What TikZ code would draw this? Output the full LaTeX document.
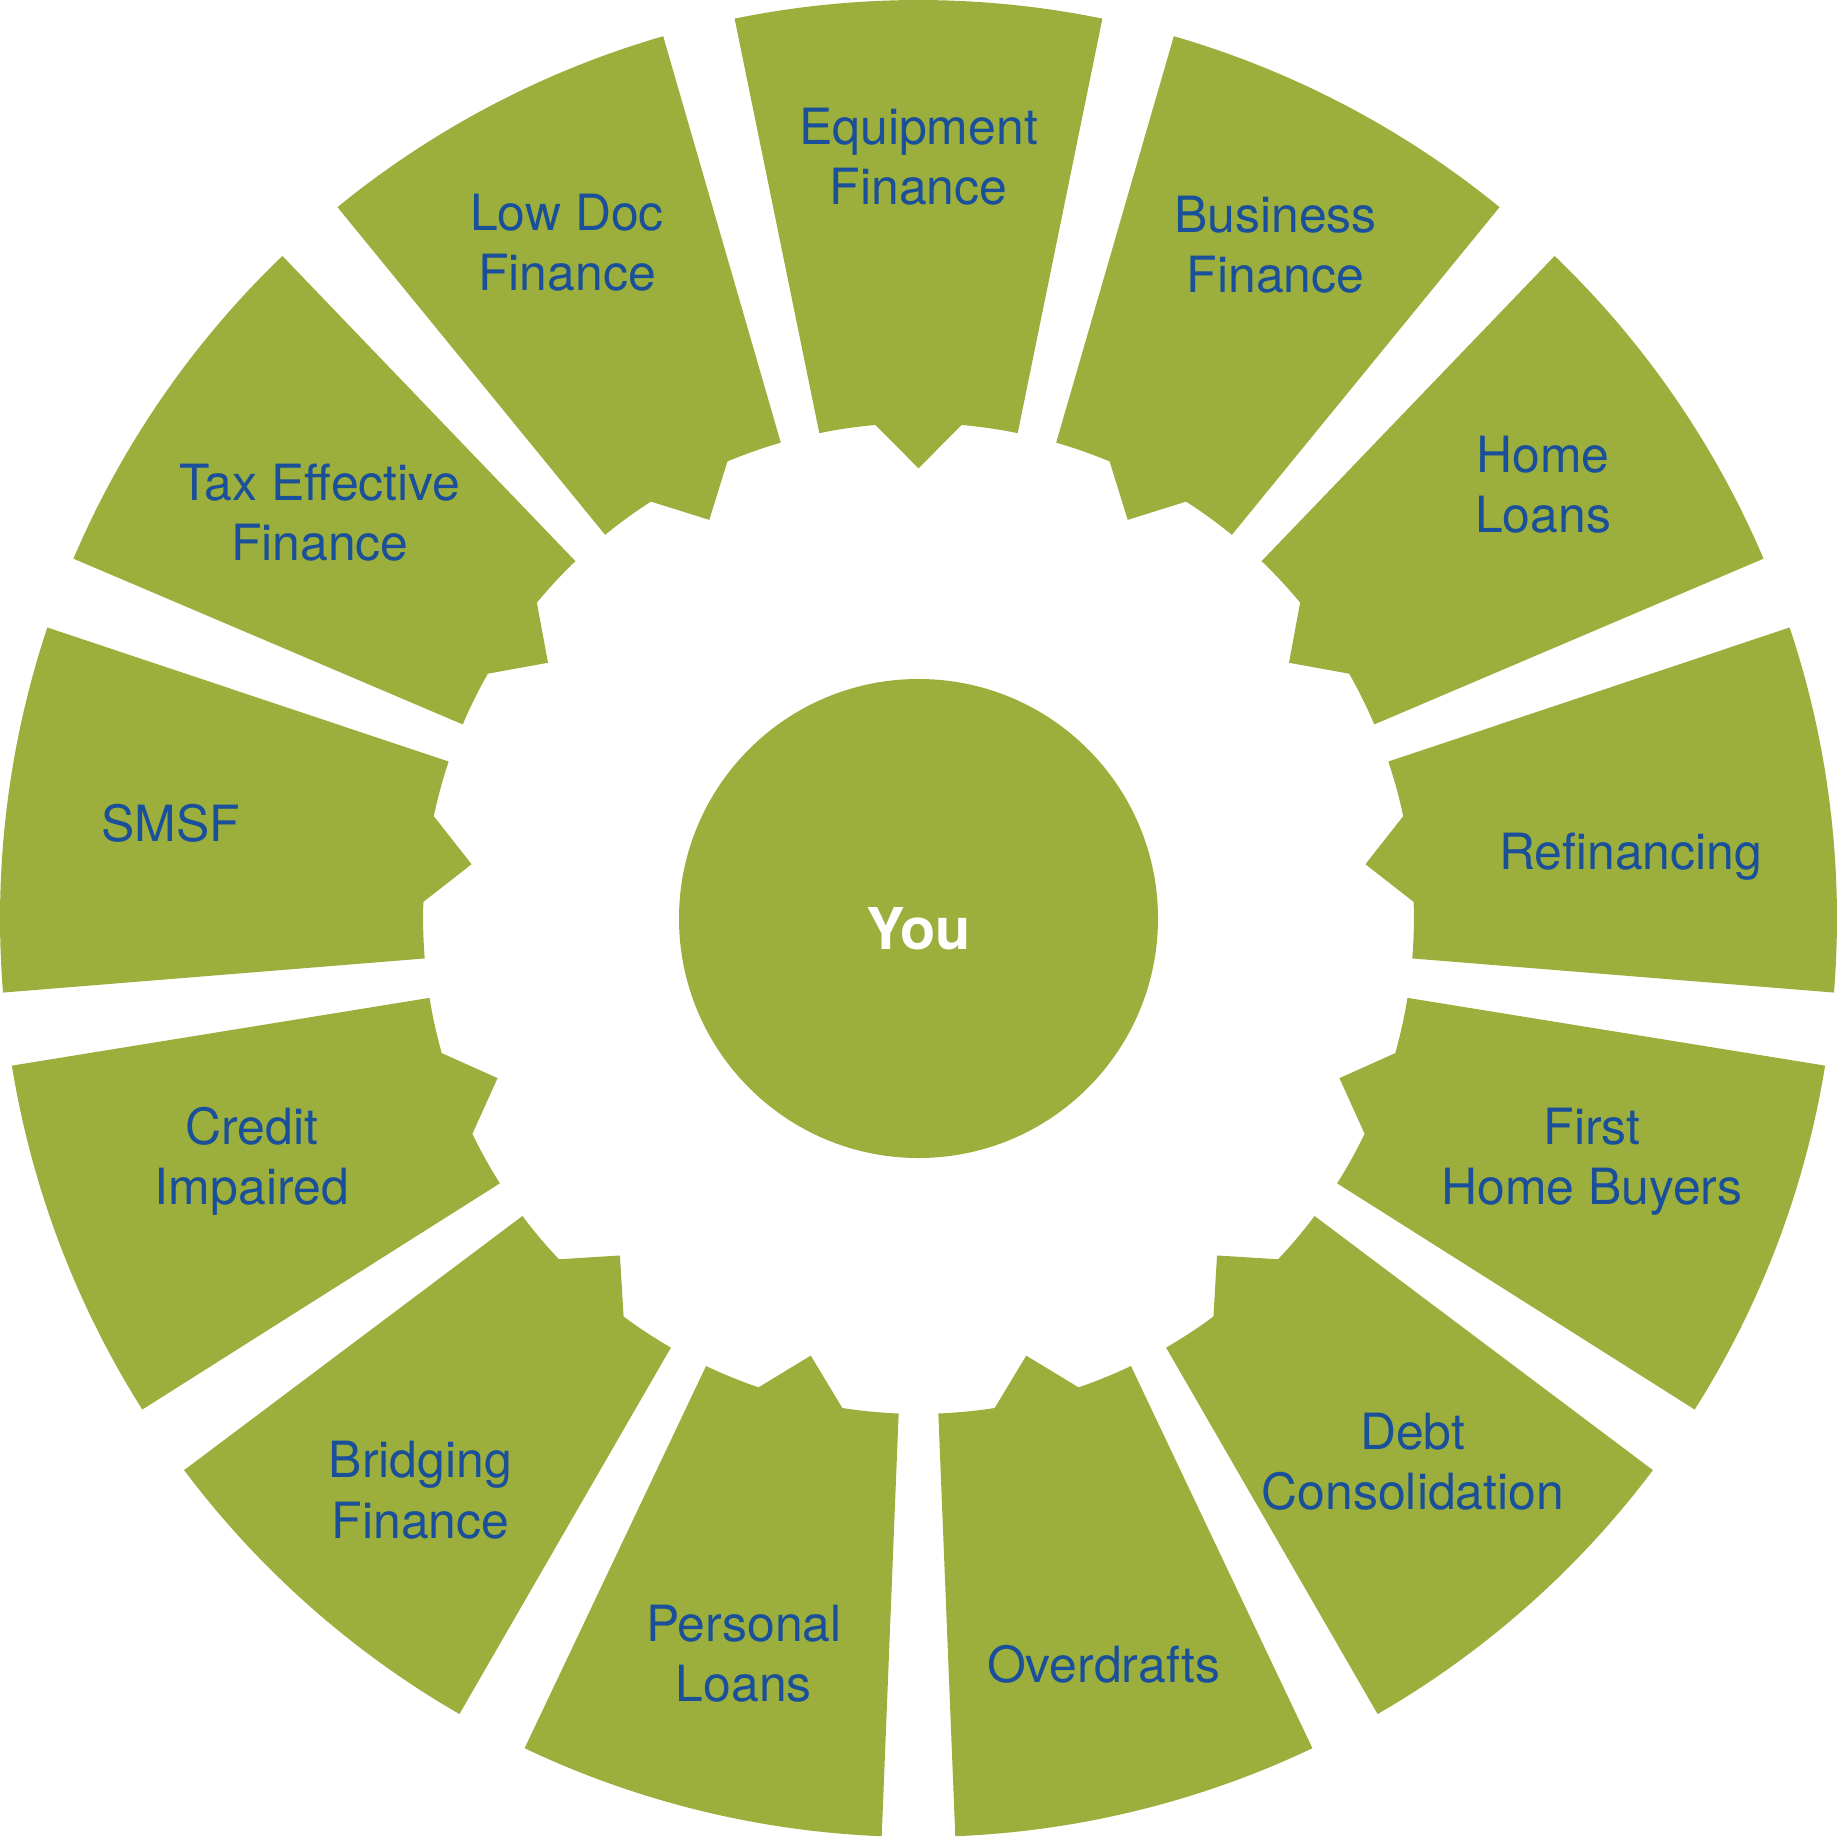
\documentclass[tikz,border=0pt]{standalone}
\usepackage{fontspec}
\setmainfont{TeX Gyre Heros}
\usepackage{tikz}
\definecolor{leafgreen}{HTML}{9CAF3C}
\definecolor{labelblue}{HTML}{1A4F9A}
\tikzset{lbl/.style={text=labelblue, align=center, font=\fontsize{14.2}{17.2}\selectfont}}
\def\segment(#1){\fill[leafgreen] (#1-11.55:9.185) arc[start angle=#1-11.55, end angle=#1+11.55, radius=9.185] -- (#1+11.55:4.954) arc[start angle=#1+11.55, end angle=#1+5, radius=4.954] -- (#1:4.502) -- (#1-5:4.954) arc[start angle=#1-5, end angle=#1-11.55, radius=4.954] -- cycle;}

\begin{document}
\begin{tikzpicture}
			%%%%% START %%%%%
			
			\useasboundingbox (-9.185, -9.175) rectangle (9.185, 9.185);
			
			\segment(90)
			\segment(62.308)
			\segment(34.615)
			\segment(6.923)
			\segment(-20.769)
			\segment(-48.462)
			\segment(-76.154)
			\segment(-103.846)
			\segment(-131.538)
			\segment(-159.231)
			\segment(-186.923)
			\segment(-214.615)
			\segment(-242.308)
			
			\fill[leafgreen] (0, 0) circle (2.395);
			\node[text=white, font=\fontsize{16.4}{19.6}\selectfont\bfseries] (you) at (0, -0.1) {You};
			
			\node[lbl] (equip) at (0, 7.62) {Equipment\\Finance};
			\node[lbl] (business) at (3.57, 6.74) {Business\\Finance};
			\node[lbl] (home) at (6.245, 4.34) {Home\\Loans};
			\node[lbl] (refin) at (7.12, 0.62) {Refinancing};
			\node[lbl] (firsthome) at (6.735, -2.43) {First\\Home Buyers};
			\node[lbl] (debt) at (4.944, -5.43) {Debt\\Consolidation};
			\node[lbl] (overdr) at (1.85, -7.46) {Overdrafts};
			\node[lbl] (personal) at (-1.746, -7.35) {Personal\\Loans};
			\node[lbl] (bridging) at (-4.98, -5.717) {Bridging\\Finance};
			\node[lbl] (credit) at (-6.666, -2.43) {Credit\\Impaired};
			\node[lbl] (smsf) at (-7.475, 0.949) {SMSF};
			\node[lbl] (tax) at (-5.987, 4.06) {Tax Effective\\Finance};
			\node[lbl] (lowdoc) at (-3.515, 6.76) {Low Doc\\Finance};
			
			%%%%% END %%%%%
\end{tikzpicture}
\end{document}
